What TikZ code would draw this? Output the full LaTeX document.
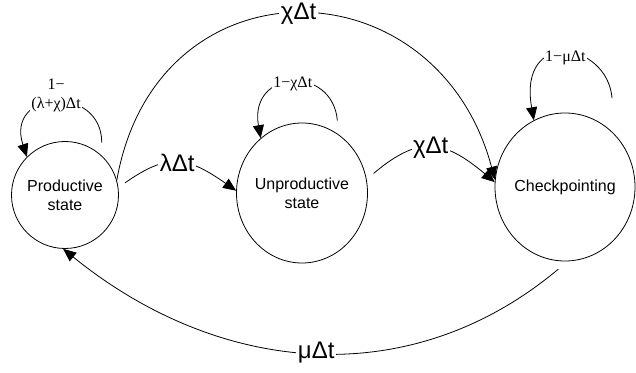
\documentclass[tikz,border=0pt]{standalone}
\usepackage{fontspec}
\setmainfont{Liberation Serif}
\setsansfont{Liberation Sans}
\usetikzlibrary{positioning, arrows.meta, shapes.geometric}

\tikzset{
  stnode/.style={draw, ellipse, line width=0.8pt, inner sep=0pt, align=center,
    font=\sffamily\fontsize{16}{19}\selectfont},
  rate/.style={fill=white, inner sep=1.5pt, font=\sffamily\fontsize{24}{28}\selectfont},
  selfrate/.style={fill=white, inner sep=1.5pt, font=\fontsize{16}{19}\selectfont},
  trans/.style={line width=0.8pt, -{Triangle[length=13pt,width=11pt]}}
}

\begin{document}
\begin{tikzpicture}[x=1pt, y=1pt]
  \useasboundingbox (0,0) rectangle (636,372);
  % states
  \node[stnode, minimum width=107pt, minimum height=107pt] (prod) at (65,177) {Productive\\state};
  \node[stnode, inner xsep=-1pt, minimum width=131pt, minimum height=140pt] (unprod) at (302,179) {Unproductive\\state};
  \node[stnode, inner xsep=-2pt, minimum width=140pt, minimum height=148pt] (check) at (565,185) {Checkpointing};
  % transitions
  \draw[trans, shorten <=8pt] (prod.8) to[out=35, in=145, looseness=1.31] node[rate]{λΔt} (unprod.178);
  \draw[trans, shorten <=9pt] (unprod.12) to[out=40, in=140, looseness=1.35] node[rate]{χΔt} (check.176);
  \draw[trans] (prod.16) to[out=80, in=105, looseness=1.54] node[rate]{χΔt} (check.174);
  \draw[trans, shorten <=12pt] (check.272) to[out=220, in=321, looseness=1.03] node[rate]{μΔt} (prod.268);
  % self loops
  \draw[trans, shorten <=13pt] (prod.47) to[out=90, in=108, looseness=2.43]
    node[selfrate, label={[selfrate, inner sep=0pt, label distance=5pt]above:1−}]{(λ+χ)Δt} (prod.135);
  \draw[trans, shorten <=14pt] (unprod.58) to[out=95, in=100, looseness=2.3] node[selfrate]{1−χΔt} (unprod.127);
  \draw[trans, shorten <=37pt] (check.46) to[out=95, in=100, looseness=2.9] node[selfrate]{1−μΔt} (check.115);
\end{tikzpicture}
\end{document}
